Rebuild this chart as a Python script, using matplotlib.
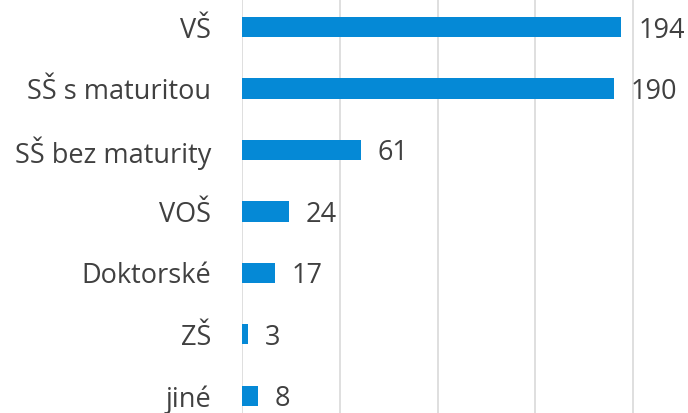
import matplotlib.pyplot as plt
import numpy as np

categories = ['VŠ', 'SŠ s maturitou', 'SŠ bez maturity', 'VOŠ', 'Doktorské', 'ZŠ', 'jiné']
values = [194, 190, 61, 24, 17, 3, 8]

plt.rcParams['font.family'] = ['Open Sans', 'DejaVu Sans']

fig = plt.figure(figsize=(6.88, 4.13), dpi=100)
ax = fig.add_axes([242 / 688, 0, 1 - 242 / 688, 1])

y = np.arange(len(categories))
ax.barh(y, values, height=0.33, color='#0589d6', zorder=3)

# value labels right of each bar
for yi, v in zip(y, values):
    ax.annotate(str(v), (v, yi), xytext=(12, -2.5), textcoords='offset points',
                va='center', ha='left', fontsize=19.5, color='#404040')

ax.set_xlim(0, 228)
ax.set_ylim(6.28, -0.44)
ax.set_xticks([0, 50, 100, 150, 200])
ax.xaxis.grid(True, color='#d9d9d9', linewidth=1.2)
ax.tick_params(axis='x', length=0, labelbottom=False)
ax.set_yticks(y)
ax.set_yticklabels(categories, fontsize=19.5, color='#404040')
ax.tick_params(axis='y', length=0, pad=22)
for s in ['top', 'right', 'bottom', 'left']:
    ax.spines[s].set_visible(False)

fig.savefig('out.png', dpi=100)
